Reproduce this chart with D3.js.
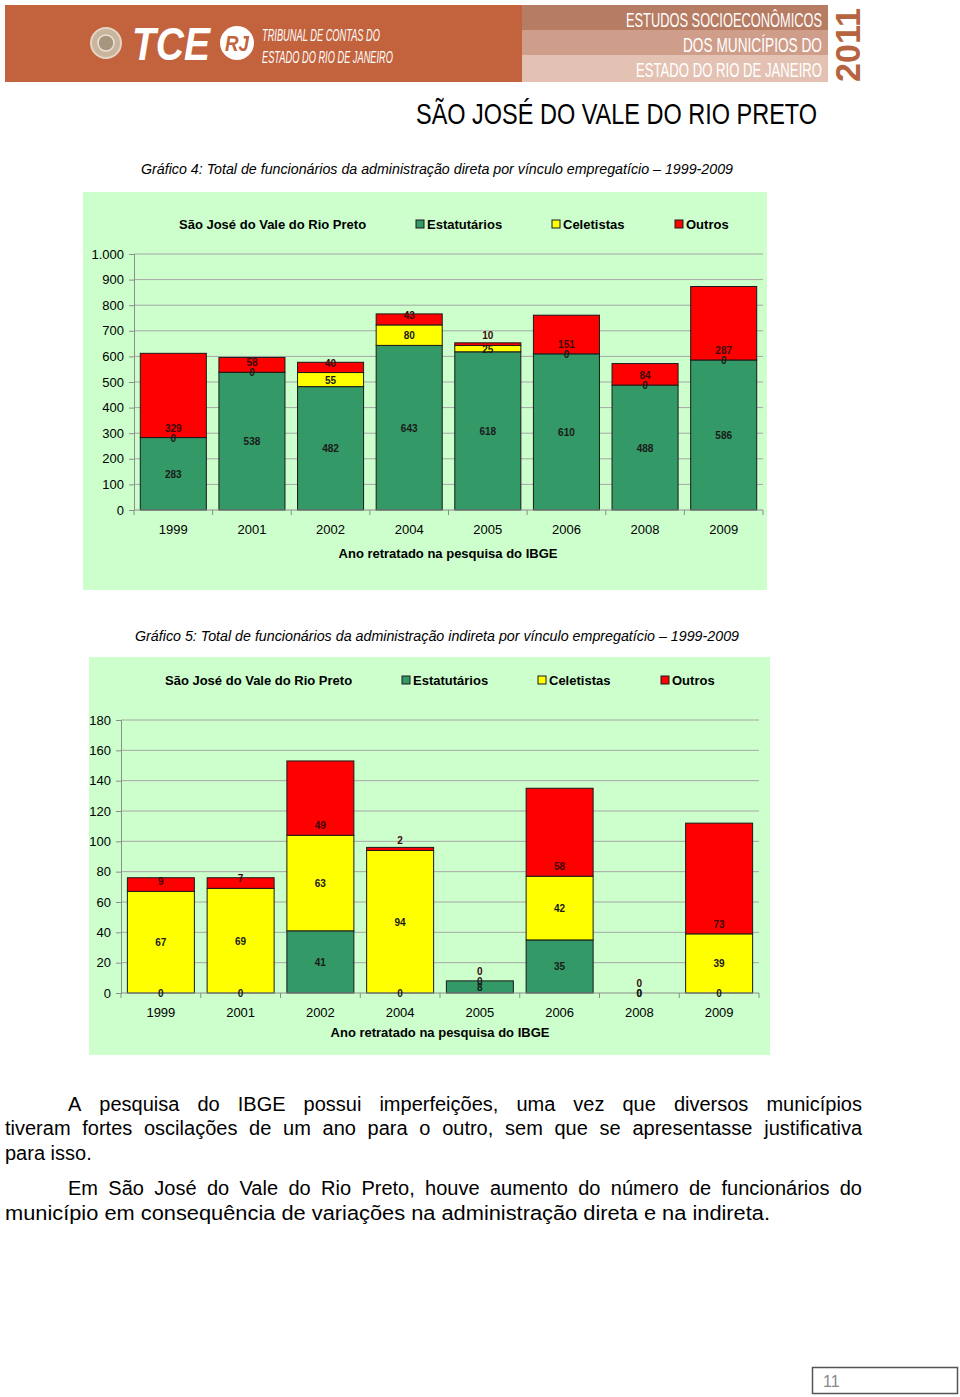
<!DOCTYPE html>
<html>
<head>
<meta charset="utf-8">
<script src="https://cdn.jsdelivr.net/npm/d3@7/dist/d3.min.js"></script>
<style>
  html, body { margin: 0; padding: 0; background: #fff; }
  svg { display: block; }
</style>
</head>
<body>
<svg id="page" width="960" height="1397"></svg>
<script>
// ---------------- DATA ----------------
const years = ["1999", "2001", "2002", "2004", "2005", "2006", "2008", "2009"];
const seriesNames = ["Estatutários", "Celetistas", "Outros"];

const diretaEstatutarios = [283, 538, 482, 643, 618, 610, 488, 586];
const diretaCeletistas   = [0, 0, 55, 80, 25, 0, 0, 0];
const diretaOutros       = [329, 58, 40, 43, 10, 151, 84, 287];

const indiretaEstatutarios = [0, 0, 41, 0, 8, 35, 0, 0];
const indiretaCeletistas   = [67, 69, 63, 94, 0, 42, 0, 39];
const indiretaOutros       = [9, 7, 49, 2, 0, 58, 0, 73];

const ticksDireta   = [0, 100, 200, 300, 400, 500, 600, 700, 800, 900, 1000];
const ticksIndireta = [0, 20, 40, 60, 80, 100, 120, 140, 160, 180];

const municipio = "São José do Vale do Rio Preto";
const axisTitle = "Ano retratado na pesquisa do IBGE";
const caption1 = "Gráfico 4: Total de funcionários da administração direta por vínculo empregatício – 1999-2009";
const caption2 = "Gráfico 5: Total de funcionários da administração indireta por vínculo empregatício – 1999-2009";
const paragraphLines = [
  "A pesquisa do IBGE possui imperfeições, uma vez que diversos municípios",
  "tiveram fortes oscilações de um ano para o outro, sem que se apresentasse justificativa",
  "para isso.",
  "Em São José do Vale do Rio Preto, houve aumento do número de funcionários do",
  "município em consequência de variações na administração direta e na indireta."
];

// ---------------- STYLE ----------------
const colors = ["#339966", "#ffff00", "#ff0000"];
const FONT = "'Liberation Sans', Arial, sans-serif";
const svg = d3.select("#page");
svg.append("rect").attr("width", 960).attr("height", 1397).attr("fill", "#fff");

// ---------------- BANNER ----------------
const banner = svg.append("g");
banner.append("rect").attr("x", 5).attr("y", 5).attr("width", 518).attr("height", 77).attr("fill", "#c2633d");
banner.append("rect").attr("x", 522).attr("y", 5).attr("width", 306).attr("height", 25).attr("fill", "#b77c64");
banner.append("rect").attr("x", 522).attr("y", 30).attr("width", 306).attr("height", 25).attr("fill", "#cf9e8a");
banner.append("rect").attr("x", 522).attr("y", 55).attr("width", 306).attr("height", 27).attr("fill", "#e4c2b3");
// seal
banner.append("circle").attr("cx", 106).attr("cy", 43).attr("r", 15).attr("fill", "#c9b49e").attr("stroke", "#e2d6c8").attr("stroke-width", 2);
banner.append("circle").attr("cx", 106).attr("cy", 43).attr("r", 8).attr("fill", "#a8957f").attr("stroke", "#ece3d8").attr("stroke-width", 1.5);
// TCE
banner.append("text").attr("x", 132).attr("y", 60).attr("font-family", FONT).attr("font-weight", "bold")
  .attr("font-style", "italic").attr("font-size", 46).attr("fill", "#fff")
  .attr("textLength", 78).attr("lengthAdjust", "spacingAndGlyphs").text("TCE");
banner.append("circle").attr("cx", 237).attr("cy", 43).attr("r", 17).attr("fill", "#fff");
banner.append("text").attr("x", 237).attr("y", 51).attr("text-anchor", "middle").attr("font-family", FONT)
  .attr("font-weight", "bold").attr("font-style", "italic").attr("font-size", 22).attr("fill", "#c2633d")
  .attr("textLength", 24).attr("lengthAdjust", "spacingAndGlyphs").text("RJ");
banner.append("text").attr("x", 262).attr("y", 41).attr("font-family", FONT).attr("font-style", "italic")
  .attr("font-size", 16).attr("fill", "#fff").attr("textLength", 118).attr("lengthAdjust", "spacingAndGlyphs")
  .text("TRIBUNAL DE CONTAS DO");
banner.append("text").attr("x", 262).attr("y", 63).attr("font-family", FONT).attr("font-style", "italic")
  .attr("font-size", 16).attr("fill", "#fff").attr("textLength", 131).attr("lengthAdjust", "spacingAndGlyphs")
  .text("ESTADO DO RIO DE JANEIRO");
const bannerRight = [
  ["ESTUDOS SOCIOECONÔMICOS", 27, 196],
  ["DOS MUNICÍPIOS DO", 52, 139],
  ["ESTADO DO RIO DE JANEIRO", 77, 186]
];
bannerRight.forEach(([t, y, w]) => {
  banner.append("text").attr("x", 822).attr("y", y).attr("text-anchor", "end").attr("font-family", FONT)
    .attr("font-size", 21).attr("fill", "#fff").attr("textLength", w).attr("lengthAdjust", "spacingAndGlyphs").text(t);
});
banner.append("text").attr("transform", "translate(860,82) rotate(-90)").attr("font-family", FONT)
  .attr("font-weight", "bold").attr("font-size", 35).attr("fill", "#b5643f")
  .attr("textLength", 74).attr("lengthAdjust", "spacingAndGlyphs").text("2011");

// Title
svg.append("text").attr("x", 416).attr("y", 124).attr("font-family", FONT).attr("font-size", 30).attr("fill", "#000")
  .attr("textLength", 401).attr("lengthAdjust", "spacingAndGlyphs").text("SÃO JOSÉ DO VALE DO RIO PRETO");

// ---------------- CHART ----------------
function drawChart(cfg) {
  const g = svg.append("g");
  // caption
  g.append("text").attr("x", cfg.capX).attr("y", cfg.capY).attr("font-family", FONT).attr("font-style", "italic")
    .attr("font-size", 14).attr("fill", "#000").attr("textLength", cfg.capW).attr("lengthAdjust", "spacingAndGlyphs")
    .text(cfg.caption);
  // background
  g.append("rect").attr("x", cfg.bg[0]).attr("y", cfg.bg[1]).attr("width", cfg.bg[2]).attr("height", cfg.bg[3])
    .attr("fill", "#ccffcc");

  const x = d3.scaleBand().domain(years).range(cfg.xRange).paddingInner(0.16).paddingOuter(0.08);
  const y = d3.scaleLinear().domain([0, cfg.ticks[cfg.ticks.length - 1]]).range(cfg.yRange);
  const fmt = d3.formatLocale({ decimal: ",", thousands: ".", grouping: [3], currency: ["", ""] }).format(",d");

  // gridlines
  g.append("g").selectAll("line").data(cfg.ticks.slice(1)).join("line")
    .attr("x1", cfg.xRange[0]).attr("x2", cfg.xRange[1])
    .attr("y1", d => y(d)).attr("y2", d => y(d))
    .attr("stroke", "#a6a6a6").attr("stroke-width", 1);

  // y axis
  const yAxis = g.append("g").attr("transform", `translate(${cfg.xRange[0]},0)`)
    .call(d3.axisLeft(y).tickValues(cfg.ticks).tickFormat(fmt).tickSize(5).tickPadding(5));
  yAxis.select(".domain").attr("stroke", "#8c8c8c");
  yAxis.selectAll(".tick line").attr("stroke", "#8c8c8c");
  yAxis.selectAll("text").attr("font-family", FONT).attr("font-size", 13).attr("fill", "#000");

  // stacked data
  const rows = years.map((yr, i) => ({ year: yr, v: cfg.series.map(s => s[i]) }));
  const stack = d3.stack().keys([0, 1, 2]).value((d, k) => d.v[k]);
  const stacked = stack(rows);

  const bars = g.append("g");
  stacked.forEach((layer, k) => {
    bars.append("g").selectAll("rect").data(layer).join("rect")
      .attr("x", d => x(d.data.year))
      .attr("width", x.bandwidth())
      .attr("y", d => y(d[1]))
      .attr("height", d => Math.max(0, y(d[0]) - y(d[1])))
      .attr("fill", colors[k])
      .attr("stroke", d => (d[1] - d[0]) > 0 ? "#1a1a1a" : "none")
      .attr("stroke-width", 1);
  });

  // x axis
  const xAxisG = g.append("g").attr("transform", `translate(0,${cfg.yRange[0]})`);
  xAxisG.append("line").attr("x1", cfg.xRange[0]).attr("x2", cfg.xRange[1]).attr("stroke", "#8c8c8c");
  const bounds = years.map(yr => x(yr) - x.step() * 0.08).concat([cfg.xRange[1]]);
  xAxisG.selectAll("line.tk").data(bounds).join("line").attr("class", "tk")
    .attr("x1", d => d).attr("x2", d => d).attr("y1", 0).attr("y2", 5).attr("stroke", "#8c8c8c");
  xAxisG.selectAll("text").data(years).join("text")
    .attr("x", d => x(d) + x.bandwidth() / 2).attr("y", 24)
    .attr("text-anchor", "middle").attr("font-family", FONT).attr("font-size", 13).text(d => d);

  // labels
  const lab = g.append("g").attr("font-family", FONT).attr("font-size", 10).attr("font-weight", "bold")
    .attr("text-anchor", "middle");
  stacked.forEach((layer, k) => {
    lab.append("g").selectAll("text").data(layer).join("text")
      .attr("x", d => x(d.data.year) + x.bandwidth() / 2)
      .attr("y", d => k < 2 ? (y(d[0]) + y(d[1])) / 2 + 4 : y(d[0]) - 6)
      .attr("fill", k === 2 ? "#3a0a0a" : "#1a1a1a")
      .text(d => d.data.v[k]);
  });

  // axis title
  g.append("text").attr("x", cfg.titleX).attr("y", cfg.titleY).attr("text-anchor", "middle")
    .attr("font-family", FONT).attr("font-weight", "bold").attr("font-size", 13).text(axisTitle);

  // legend
  const leg = g.append("g").attr("font-family", FONT).attr("font-weight", "bold").attr("font-size", 13);
  leg.append("text").attr("x", cfg.legX[0]).attr("y", cfg.legY + 5).text(municipio);
  seriesNames.forEach((n, k) => {
    leg.append("rect").attr("x", cfg.legX[k + 1] - 11).attr("y", cfg.legY - 4).attr("width", 8).attr("height", 8)
      .attr("fill", colors[k]).attr("stroke", "#1a1a1a").attr("stroke-width", 1);
    leg.append("text").attr("x", cfg.legX[k + 1]).attr("y", cfg.legY + 5).text(n);
  });
}

drawChart({
  caption: caption1, capX: 141, capY: 174, capW: 592,
  bg: [83, 192, 684, 398],
  xRange: [134, 763], yRange: [510, 254],
  ticks: ticksDireta,
  series: [diretaEstatutarios, diretaCeletistas, diretaOutros],
  titleX: 448, titleY: 558,
  legX: [179, 427, 563, 686], legY: 224
});

drawChart({
  caption: caption2, capX: 135, capY: 641, capW: 604,
  bg: [89, 657, 681, 398],
  xRange: [121, 759], yRange: [993, 720],
  ticks: ticksIndireta,
  series: [indiretaEstatutarios, indiretaCeletistas, indiretaOutros],
  titleX: 440, titleY: 1037,
  legX: [165, 413, 549, 672], legY: 680
});

// ---------------- PARAGRAPHS ----------------
const para = svg.append("g").attr("font-family", FONT).attr("font-size", 20).attr("fill", "#000");
const lineSpecs = [
  { x0: 68, x1: 862, y: 1111, justify: true },
  { x0: 5, x1: 862, y: 1135, justify: true },
  { x0: 5, x1: null, y: 1160, justify: false },
  { x0: 68, x1: 862, y: 1195, justify: true },
  { x0: 5, x1: 770, y: 1220, justify: false }
];
paragraphLines.forEach((line, i) => {
  const spec = lineSpecs[i];
  if (!spec.justify) {
    const t = para.append("text").attr("x", spec.x0).attr("y", spec.y).text(line);
    if (spec.x1) t.attr("textLength", spec.x1 - spec.x0).attr("lengthAdjust", "spacingAndGlyphs");
    return;
  }
  const words = line.split(" ");
  const nodes = words.map(w => para.append("text").attr("y", spec.y).text(w));
  const widths = nodes.map(n => n.node().getComputedTextLength());
  const total = d3.sum(widths);
  const target = spec.x1 - spec.x0;
  let gap = (target - total) / (words.length - 1);
  let scale = 1;
  if (gap < 3) { scale = (target - 3 * (words.length - 1)) / total; gap = 3; }
  let cx = spec.x0;
  nodes.forEach((n, j) => {
    const w = widths[j] * scale;
    n.attr("x", cx);
    if (scale !== 1) n.attr("textLength", w).attr("lengthAdjust", "spacingAndGlyphs");
    cx += w + gap;
  });
});

// ---------------- PAGE NUMBER ----------------
svg.append("rect").attr("x", 812.5).attr("y", 1367.5).attr("width", 145).attr("height", 26)
  .attr("fill", "#fff").attr("stroke", "#555").attr("stroke-width", 1.5);
svg.append("text").attr("x", 823).attr("y", 1387).attr("font-family", FONT).attr("font-size", 16)
  .attr("fill", "#888").text("11");
</script>
</body>
</html>
